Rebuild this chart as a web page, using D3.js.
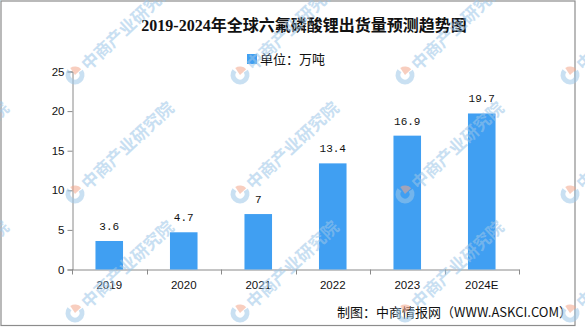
<!DOCTYPE html>
<html>
<head>
<meta charset="utf-8">
<script src="https://cdn.jsdelivr.net/npm/d3@7"></script>
<style>
  html, body { margin: 0; padding: 0; background: #fff; }
  svg { display: block; }
</style>
</head>
<body>
<script>
// Chart data
const years = ["2019", "2020", "2021", "2022", "2023", "2024E"];
const shipments = [3.6, 4.7, 7, 13.4, 16.9, 19.7];
const valueLabels = ["3.6", "4.7", "7", "13.4", "16.9", "19.7"];
const yTicks = [0, 5, 10, 15, 20, 25];

const titleText = "2019-2024年全球六氟磷酸锂出货量预测趋势图";
const legendText = "单位：万吨";
const sourceText = "制图：中商情报网（WWW.ASKCI.COM）";
const watermarkText = "中商产业研究院";

const W = 585, H = 327;
const barColor = "#409ff2";
const axisColor = "#8a8a8a";

const svg = d3.select("body").append("svg")
  .attr("width", W).attr("height", H);

// outer frame
svg.append("rect")
  .attr("x", 1).attr("y", 1).attr("width", 574).attr("height", 324.5)
  .attr("fill", "#fff").attr("stroke", "#8c8c8c").attr("stroke-width", 1.2);

// title
svg.append("text")
  .attr("x", 304).attr("y", 31)
  .attr("text-anchor", "middle")
  .attr("font-family", "'Liberation Serif', 'Noto Sans CJK SC', serif")
  .attr("font-weight", "bold")
  .attr("font-size", 16)
  .attr("fill", "#111")
  .text(titleText);

// legend
svg.append("rect")
  .attr("x", 247).attr("y", 54).attr("width", 10).attr("height", 10)
  .attr("fill", barColor);
svg.append("text")
  .attr("x", 260).attr("y", 63.5)
  .attr("font-family", "'Noto Sans CJK SC', sans-serif")
  .attr("font-size", 13)
  .attr("fill", "#111")
  .text(legendText);

// scales
const x = d3.scaleBand().domain(years).range([72, 519])
  .paddingInner(0.63).paddingOuter(0.315);
const xCat = d3.scaleBand().domain(years).range([72, 519]);
const y = d3.scaleLinear().domain([0, 25]).range([269.5, 71.5]);

const tickFont = "'Liberation Sans', Arial, sans-serif";

// y axis
const yAxis = svg.append("g")
  .attr("transform", "translate(72.5,0)")
  .call(d3.axisLeft(y).tickValues(yTicks).tickSize(5).tickPadding(3));
yAxis.select(".domain").attr("stroke", axisColor);
yAxis.selectAll(".tick line").attr("stroke", axisColor);
yAxis.selectAll(".tick text")
  .attr("font-family", tickFont).attr("font-size", 11.5).attr("fill", "#111");

// x axis: baseline with ticks at category boundaries
const xg = svg.append("g");
xg.append("line")
  .attr("x1", 72).attr("x2", 519.5)
  .attr("y1", y(0) + 0.5).attr("y2", y(0) + 0.5)
  .attr("stroke", axisColor);
const bounds = years.map(d => xCat(d)).concat([xCat(years[years.length - 1]) + xCat.bandwidth()]);
xg.selectAll("line.tk").data(bounds).enter().append("line")
  .attr("class", "tk")
  .attr("x1", d => Math.round(d) + 0.5).attr("x2", d => Math.round(d) + 0.5)
  .attr("y1", y(0)).attr("y2", y(0) + 5)
  .attr("stroke", axisColor);
xg.selectAll("text").data(years).enter().append("text")
  .attr("x", d => xCat(d) + xCat.bandwidth() / 2)
  .attr("y", 289)
  .attr("text-anchor", "middle")
  .attr("font-family", tickFont).attr("font-size", 11.5).attr("fill", "#111")
  .text(d => d);

// bars
const data = years.map((d, i) => ({ year: d, value: shipments[i], label: valueLabels[i] }));
svg.append("g").selectAll("rect").data(data).enter().append("rect")
  .attr("x", d => x(d.year))
  .attr("y", d => y(d.value))
  .attr("width", x.bandwidth())
  .attr("height", d => y(0) - y(d.value))
  .attr("fill", barColor);

// value labels
svg.append("g").selectAll("text").data(data).enter().append("text")
  .attr("x", d => x(d.year) + x.bandwidth() / 2)
  .attr("y", d => y(d.value) - 11)
  .attr("text-anchor", "middle")
  .attr("font-family", "'Liberation Mono', monospace")
  .attr("font-size", 11)
  .attr("fill", "#111")
  .text(d => d.label);

// source note
svg.append("text")
  .attr("x", 572).attr("y", 317)
  .attr("text-anchor", "end")
  .attr("font-family", "'Noto Sans CJK SC', sans-serif")
  .attr("font-size", 13)
  .attr("fill", "#111")
  .text(sourceText);

// diagonal watermark grid
const wm = svg.append("g").attr("pointer-events", "none");
const wmX = [-90, 75, 240, 405, 570];
const wmY = [75, 194, 313];
const ring = d3.arc().innerRadius(4.5).outerRadius(9.5)
  .startAngle(Math.PI * 0.55).endAngle(Math.PI * 1.95);
const wedge = d3.arc().innerRadius(0).outerRadius(8.5)
  .startAngle(Math.PI * 0.05).endAngle(Math.PI * 0.5);
wmY.forEach(cy => wmX.forEach(cx => {
  const g = wm.append("g").attr("transform", `translate(${cx},${cy}) rotate(-43)`);
  g.append("path").attr("d", ring()).attr("fill", "#9cc6e8").attr("opacity", 0.55);
  g.append("path").attr("d", wedge()).attr("fill", "#f3a68a").attr("opacity", 0.55);
  g.append("text")
    .attr("x", 12).attr("y", 6.5)
    .attr("font-family", "'Noto Sans CJK SC', sans-serif")
    .attr("font-weight", "bold")
    .attr("font-size", 17)
    .attr("fill", "#9cc6e8")
    .attr("opacity", 0.55)
    .text(watermarkText);
}));
</script>
</body>
</html>
